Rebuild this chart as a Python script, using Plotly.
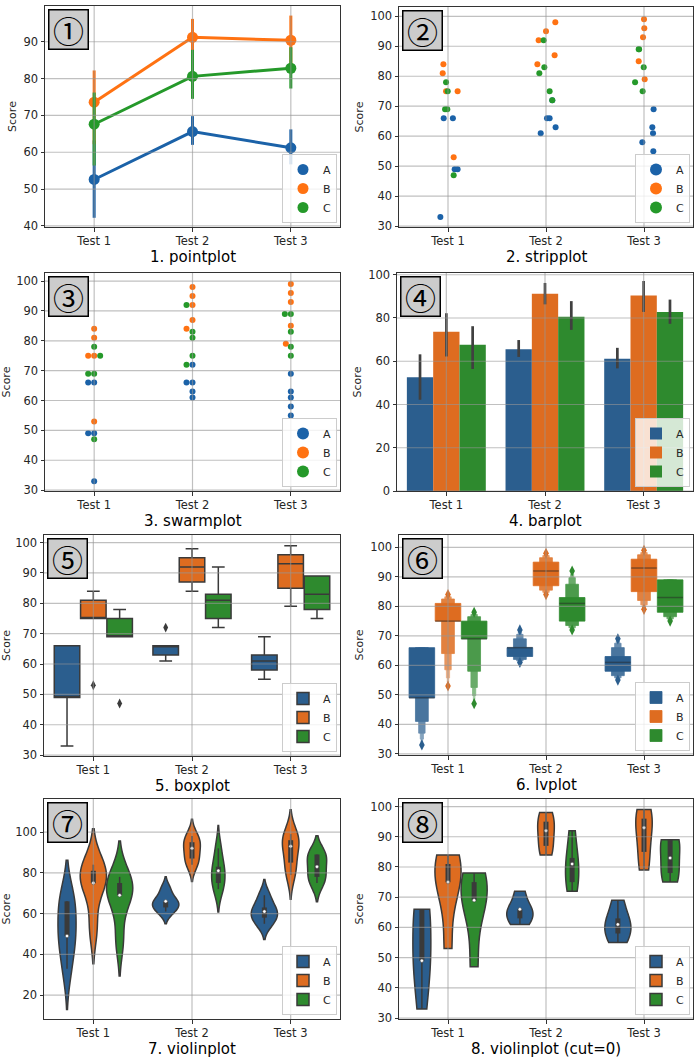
import numpy as np
import plotly.graph_objects as go

# ---------------- data ----------------
tests = ["Test 1", "Test 2", "Test 3"]
groups = ["A", "B", "C"]

# five scores per class and test
scores_A = [[66, 66, 49, 49, 33], [72, 66, 66, 63, 61], [69, 63, 61, 58, 55]]
scores_B = [[84, 81, 75, 75, 53], [98, 95, 92, 87, 84], [99, 96, 93, 85, 79]]
scores_C = [[78, 75, 69, 69, 47], [92, 83, 81, 75, 72], [89, 89, 83, 78, 75]]

# 95% confidence intervals (bootstrap) read from the point / bar plots
ci_low_A = [42.2, 62.0, 56.7]
ci_high_A = [63.2, 69.8, 66.2]
ci_low_B = [62.2, 86.3, 82.8]
ci_high_B = [82.2, 96.2, 97.1]
ci_low_C = [56.4, 74.5, 77.3]
ci_high_C = [76.2, 87.8, 88.5]

# horizontal jitter of the strip plot and swarm offsets (category units)
strip_jitter_A = [[-0.044, 0.050, 0.068, 0.098, -0.078], [0.064, 0.010, 0.037, 0.098, -0.054], [0.098, 0.085, 0.092, -0.017, 0.095]]
strip_jitter_B = [[-0.047, -0.054, -0.020, 0.098, 0.058], [0.095, 0.000, -0.075, 0.088, -0.088], [0.000, 0.003, -0.010, -0.054, 0.007]]
strip_jitter_C = [[-0.020, -0.003, -0.030, -0.007, 0.058], [-0.024, -0.017, -0.068, 0.037, 0.064], [-0.054, -0.050, -0.003, -0.091, -0.014]]

swarm_offset_A = [[-0.061, 0, -0.061, 0, 0], [0, -0.061, 0, 0, 0], [0, 0, 0, 0, 0]]
swarm_offset_B = [[0, 0, -0.061, 0, 0], [0, 0, 0, 0, -0.061], [0, 0, 0, 0, -0.051]]
swarm_offset_C = [[0, 0.061, -0.061, 0, 0], [-0.061, 0, 0, 0, -0.061], [-0.061, 0, 0, 0, 0]]

panel_titles = ["1. pointplot", "2. stripplot", "3. swarmplot", "4. barplot",
                "5. boxplot", "6. lvplot", "7. violinplot", "8. violinplot (cut=0)"]
panel_badges = ["①", "②", "③", "④", "⑤", "⑥", "⑦", "⑧"]

scores = {"A": scores_A, "B": scores_B, "C": scores_C}
ci_low = {"A": ci_low_A, "B": ci_low_B, "C": ci_low_C}
ci_high = {"A": ci_high_A, "B": ci_high_B, "C": ci_high_C}
strip_jitter = {"A": strip_jitter_A, "B": strip_jitter_B, "C": strip_jitter_C}
swarm_offset = {"A": swarm_offset_A, "B": swarm_offset_B, "C": swarm_offset_C}

# ---------------- style ----------------
W, H = 700, 1061
COL = {"A": "#1b62a8", "B": "#ff7212", "C": "#25992a"}
FILL = {"A": "#2b5e8e", "B": "#de6c20", "C": "#2e8a2e"}
GRAY = "#3a3a3a"
SPINE = "#333333"
TXT = "#262626"
GRID = "rgba(150,150,150,0.6)"
TICKFONT = dict(family="DejaVu Sans", size=11.5, color=TXT)

panel_px = [(45, 340, 6, 227), (399, 693, 7, 227), (45, 340, 273, 491), (397, 693, 273, 491),
            (44, 340, 535, 756), (399, 693, 535, 755), (44, 340, 799, 1019), (399, 693, 799, 1019)]
y_ranges = [[39.7, 99.7], [29.7, 103.1], [29.7, 102.7], [0, 100.8],
            [29.7, 102.5], [29.6, 104.2], [8.3, 116.2], [29.7, 102.5]]
y_dticks = [10, 10, 10, 20, 10, 10, 20, 10]

n_hue = len(groups)
slot = 0.8 / n_hue
hue_off = {h: (j - (n_hue - 1) / 2) * slot for j, h in enumerate(groups)}
xpos = list(range(len(tests)))


def axn(k):
    s = "" if k == 1 else str(k)
    return "x" + s, "y" + s


def lgn(k):
    return "legend" if k == 1 else f"legend{k}"


def mix_white(hexc, f):
    hexc = hexc.lstrip("#")
    r, g, b = [int(hexc[i:i + 2], 16) for i in (0, 2, 4)]
    return "rgb(%d,%d,%d)" % (255 + (r - 255) * f, 255 + (g - 255) * f, 255 + (b - 255) * f)


fig = go.Figure()

# ---------- 1. pointplot ----------
xa, ya = axn(1)
for h in groups:
    m = [float(np.mean(s)) for s in scores[h]]
    fig.add_trace(go.Scatter(
        x=xpos, y=m, mode="lines", line=dict(color=COL[h], width=3), xaxis=xa, yaxis=ya,
        error_y=dict(type="data", symmetric=False,
                     array=[hi - mm for hi, mm in zip(ci_high[h], m)],
                     arrayminus=[mm - lo for lo, mm in zip(ci_low[h], m)],
                     color=COL[h], thickness=3, width=0),
        showlegend=False, hoverinfo="skip"))
    fig.add_trace(go.Scatter(
        x=xpos, y=m, mode="markers", marker=dict(color=COL[h], size=11), name=h,
        xaxis=xa, yaxis=ya, legend=lgn(1)))

# ---------- 2. stripplot ----------
xa, ya = axn(2)
for h in groups:
    xs, ys = [], []
    for i, s in enumerate(scores[h]):
        xs += [i + j for j in strip_jitter[h][i]]
        ys += s
    fig.add_trace(go.Scatter(x=xs, y=ys, mode="markers", marker=dict(color=COL[h], size=6),
                             name=h, xaxis=xa, yaxis=ya, legend=lgn(2)))

# ---------- 3. swarmplot ----------
xa, ya = axn(3)
for h in groups:
    xs, ys = [], []
    for i, s in enumerate(scores[h]):
        xs += [i + j for j in swarm_offset[h][i]]
        ys += s
    fig.add_trace(go.Scatter(x=xs, y=ys, mode="markers", marker=dict(color=COL[h], size=6),
                             name=h, xaxis=xa, yaxis=ya, legend=lgn(3)))

# ---------- 4. barplot ----------
xa, ya = axn(4)
for h in groups:
    m = [float(np.mean(s)) for s in scores[h]]
    fig.add_trace(go.Bar(
        x=[i + hue_off[h] for i in xpos], y=m, width=slot, marker=dict(color=FILL[h], line=dict(width=0)),
        error_y=dict(type="data", symmetric=False,
                     array=[hi - mm for hi, mm in zip(ci_high[h], m)],
                     arrayminus=[mm - lo for lo, mm in zip(ci_low[h], m)],
                     color="#404040", thickness=2.7, width=0),
        name=h, xaxis=xa, yaxis=ya, legend=lgn(4)))

# ---------- 5. boxplot ----------
xa, ya = axn(5)
for h in groups:
    xs, ys = [], []
    for i, s in enumerate(scores[h]):
        xs += [i] * len(s)
        ys += s
    fig.add_trace(go.Box(
        x=xs, y=ys, name=h, xaxis=xa, yaxis=ya, legend=lgn(5), offsetgroup=h,
        fillcolor=FILL[h], line=dict(color=GRAY, width=1.5), whiskerwidth=0.5,
        boxpoints="outliers", quartilemethod="inclusive",
        marker=dict(symbol="diamond-tall", size=7, color=GRAY)))

# ---------- 6. lvplot (letter-value plot) ----------
xa, ya = axn(6)
nested_w = slot * 0.98


def lv_ends(vals):
    vals = np.sort(np.asarray(vals, float))
    n = len(vals)
    p = 0.007
    k = max(int(np.log2(n)) - int(np.log2(n * p)) + 1, 1)
    upper = [100 * (1 - 0.5 ** (i + 2)) for i in range(k, -1, -1)]
    lower = [100 * (0.5 ** (i + 2)) for i in range(k, -1, -1)]
    ends = [(np.percentile(vals, lo), np.percentile(vals, up)) for lo, up in zip(lower, upper)]
    edges = np.percentile(vals, [100 * 0.5 ** (k + 2), 100 * (1 - 0.5 ** (k + 2))])
    outl = list(vals[vals < edges[0]]) + list(vals[vals > edges[1]])
    return ends, k, outl


for h in groups:
    info = [lv_ends(s) for s in scores[h]]
    k = info[0][1]
    for lev in range(k + 1):
        c = mix_white(FILL[h], lev / k)
        fig.add_trace(go.Bar(
            x=[i + hue_off[h] for i in xpos],
            base=[info[i][0][lev][0] for i in xpos],
            y=[info[i][0][lev][1] - info[i][0][lev][0] for i in xpos],
            width=[nested_w * 2.0 ** (lev - k) for _ in xpos],
            marker=dict(color=c, line=dict(color=c, width=0.8)),
            name=h, showlegend=(lev == k), xaxis=xa, yaxis=ya, legend=lgn(6), hoverinfo="skip"))
    mx, my, ox, oy = [], [], [], []
    for i, s in enumerate(scores[h]):
        c = i + hue_off[h]
        med = float(np.median(s))
        mx += [c - nested_w / 2, c + nested_w / 2, None]
        my += [med, med, None]
        ox += [c] * len(info[i][2])
        oy += info[i][2]
    fig.add_trace(go.Scatter(x=mx, y=my, mode="lines", line=dict(color="rgba(38,38,38,0.5)", width=1.5),
                             showlegend=False, xaxis=xa, yaxis=ya, hoverinfo="skip"))
    fig.add_trace(go.Scatter(x=ox, y=oy, mode="markers",
                             marker=dict(symbol="diamond-tall", size=8, color=FILL[h]),
                             showlegend=False, xaxis=xa, yaxis=ya, hoverinfo="skip"))


# ---------- 7 / 8. violinplots ----------
def add_violins(k, span):
    xa, ya = axn(k)
    for i, t in enumerate(tests):
        for h in groups:
            v = np.asarray(scores[h][i], float)
            bw = float(np.std(v, ddof=1) * len(v) ** (-0.2))
            fig.add_trace(go.Violin(
                x=[i] * len(v), y=v, name=h, legendgroup=f"{k}{h}", showlegend=(i == 0),
                offsetgroup=h, scalegroup=f"p{k}-{t}", scalemode="width",
                bandwidth=bw, spanmode=span, points=False,
                fillcolor=FILL[h], line=dict(color=GRAY, width=1.5), opacity=1,
                box=dict(visible=False), meanline=dict(visible=False),
                xaxis=xa, yaxis=ya, legend=lgn(k), hoverinfo="skip"))
    wx, wy, bx, by, mxs, mys = [], [], [], [], [], []
    for i, t in enumerate(tests):
        for h in groups:
            v = np.asarray(scores[h][i], float)
            q25, q50, q75 = np.percentile(v, [25, 50, 75])
            lim = 1.5 * (q75 - q25)
            h1 = v[v >= q25 - lim].min()
            h2 = v[v <= q75 + lim].max()
            c = i + hue_off[h]
            wx += [c, c, None]
            wy += [h1, h2, None]
            bx += [c, c, None]
            by += [q25, q75, None]
            mxs.append(c)
            mys.append(q50)
    fig.add_trace(go.Scatter(x=wx, y=wy, mode="lines", line=dict(color=GRAY, width=1.5),
                             showlegend=False, xaxis=xa, yaxis=ya, hoverinfo="skip"))
    fig.add_trace(go.Scatter(x=bx, y=by, mode="lines", line=dict(color=GRAY, width=5),
                             showlegend=False, xaxis=xa, yaxis=ya, hoverinfo="skip"))
    fig.add_trace(go.Scatter(x=mxs, y=mys, mode="markers",
                             marker=dict(color="white", size=3.5, line=dict(color=GRAY, width=0.5)),
                             showlegend=False, xaxis=xa, yaxis=ya, hoverinfo="skip"))


add_violins(7, "soft")
add_violins(8, "hard")

# ---------------- layout ----------------
layout = dict(
    width=W, height=H, margin=dict(l=0, r=0, t=0, b=0),
    paper_bgcolor="white", plot_bgcolor="white",
    barmode="overlay", boxmode="group", boxgap=0.2, boxgroupgap=0.03,
    violinmode="group", violingap=0.2, violingroupgap=0,
    font=dict(family="DejaVu Sans", color=TXT),
)
shapes, annotations = [], []
for k in range(1, 9):
    l, r, t, b = panel_px[k - 1]
    xa, ya = axn(k)
    s = "" if k == 1 else str(k)
    lo, hi = y_ranges[k - 1]
    dt = y_dticks[k - 1]
    layout["xaxis" + s] = dict(
        domain=[l / W, r / W], anchor=ya, range=[-0.5, 2.5], tickmode="array",
        tickvals=xpos, ticktext=tests, showgrid=False, zeroline=False, showline=True, mirror=True,
        linecolor=SPINE, linewidth=1, ticks="outside", ticklen=3.5, tickcolor=SPINE,
        tickfont=TICKFONT, automargin=False, fixedrange=True)
    layout["yaxis" + s] = dict(
        domain=[1 - b / H, 1 - t / H], anchor=xa, range=[lo, hi], tick0=0, dtick=dt,
        showgrid=False, zeroline=False, showline=True, mirror=True, linecolor=SPINE, linewidth=1,
        ticks="outside", ticklen=3.5, tickcolor=SPINE, tickfont=TICKFONT, automargin=False,
        fixedrange=True, title=dict(text="Score", font=dict(family="DejaVu Sans", size=11, color=TXT),
                                    standoff=4))
    # grid lines drawn over the marks, as in the reference
    for xv in xpos:
        shapes.append(dict(type="line", xref=xa, yref=ya + " domain", x0=xv, x1=xv, y0=0, y1=1,
                           line=dict(color=GRID, width=1.2), layer="above"))
    yv = np.ceil(lo / dt) * dt
    while yv <= hi:
        shapes.append(dict(type="line", xref=xa + " domain", yref=ya, x0=0, x1=1, y0=yv, y1=yv,
                           line=dict(color=GRID, width=1.2), layer="above"))
        yv += dt
    layout[lgn(k)] = dict(
        x=(r - 3) / W, y=1 - (b - 4) / H, xanchor="right", yanchor="bottom",
        bgcolor="rgba(255,255,255,0.8)", bordercolor="#cccccc", borderwidth=1,
        font=dict(family="DejaVu Sans", size=11, color=TXT), itemwidth=30, tracegroupgap=0,
        itemsizing="constant" if k in (2, 3) else "trace")
    annotations.append(dict(
        text=panel_titles[k - 1], xref="paper", yref="paper", x=(l + r) / 2 / W, y=1 - (b + 30) / H,
        xanchor="center", yanchor="middle", showarrow=False,
        font=dict(family="DejaVu Sans", size=15, color="black")))
    annotations.append(dict(
        text=panel_badges[k - 1], xref=xa + " domain", yref=ya + " domain", x=0, y=1,
        xanchor="left", yanchor="top", xshift=3, yshift=-3, showarrow=False,
        width=38, height=38, borderpad=0, bgcolor="#cccccc", bordercolor="black", borderwidth=1.5,
        font=dict(family="Noto Sans CJK JP", size=31, color="black")))
layout["shapes"] = shapes
layout["annotations"] = annotations
fig.update_layout(**layout)

fig.write_html("out.html", config={"displayModeBar": False},
               post_script="document.body.style.margin='0px';")
